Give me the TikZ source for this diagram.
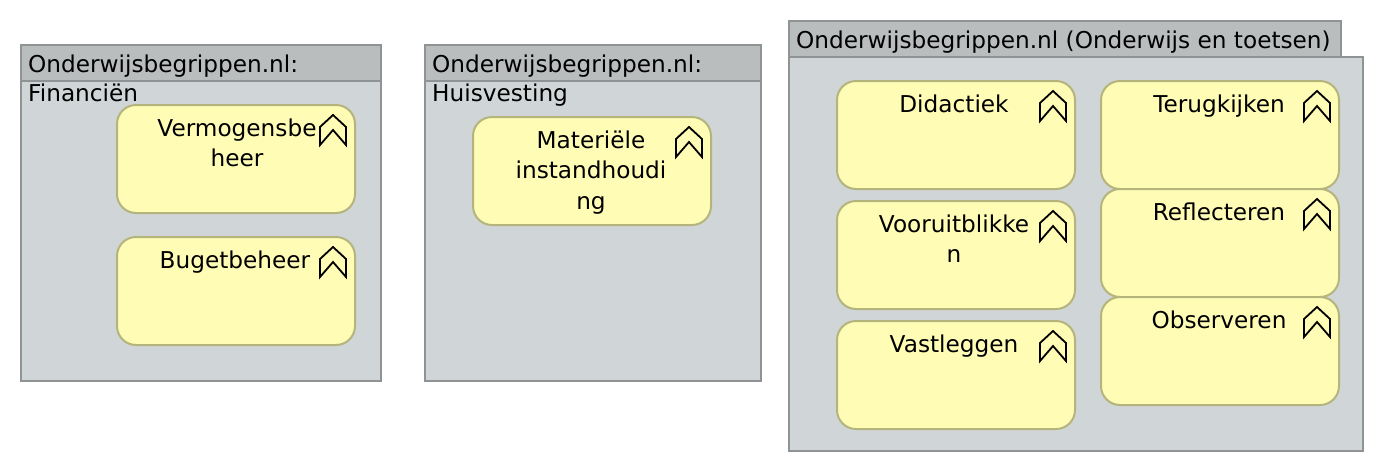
\documentclass[tikz,border=0pt]{standalone}
\usepackage{fontspec}
\setmainfont{DejaVu Sans}
\definecolor{grphead}{HTML}{BABDBE}
\definecolor{grpbody}{HTML}{D0D6D7}
\definecolor{grpline}{HTML}{8F9394}
\definecolor{elfill}{HTML}{FFFDB5}
\definecolor{elline}{HTML}{B5B47C}
\tikzset{
  px/.style={x=1pt,y=-1pt},
  grpbox/.style={draw=grpline,fill=grpbody,line width=2pt,rectangle,inner sep=0pt,outer sep=0pt,anchor=north west},
  grptab/.style={draw=grpline,fill=grphead,line width=2pt,rectangle,inner sep=0pt,outer sep=0pt,anchor=north west},
  elbox/.style={draw=elline,fill=elfill,line width=2pt,rectangle,rounded corners=19pt,inner sep=0pt,outer sep=0pt,anchor=north west,minimum width=238pt,minimum height=108pt},
  lab/.style={inner sep=0pt,font=\fontsize{23.2}{30.5}\selectfont,align=center,text=black,anchor=base},
  glab/.style={inner sep=0pt,font=\fontsize{23.2}{30.5}\selectfont,text=black,anchor=base west},
  chev/.style={draw=black,line width=1.8pt,line join=miter,fill=none}
}
\begin{document}
\begin{tikzpicture}[px]
\useasboundingbox (0,0) rectangle (1384,472);
% group 1
\node[grpbox,minimum width=360pt,minimum height=336pt] (g1) at (21,45) {};
\node[grptab,minimum width=360pt,minimum height=36pt] (g1h) at (21,45) {};
\node[glab] (g1t) at (28,72) {Onderwijsbegrippen.nl:};
\node[glab] (g1u) at (28,101) {Financiën};
\node[elbox] (e1) at (117,105) {};
\node[lab] (e1t) at (237,166.5) {Vermogensbe\\heer};
\node[elbox] (e2) at (117,237) {};
\node[lab] (e2t) at (235,268) {Bugetbeheer};
% group 2
\node[grpbox,minimum width=336pt,minimum height=336pt] (g2) at (425,45) {};
\node[grptab,minimum width=336pt,minimum height=36pt] (g2h) at (425,45) {};
\node[glab] (g2t) at (432,72) {Onderwijsbegrippen.nl:};
\node[glab] (g2u) at (432,101) {Huisvesting};
\node[elbox] (e3) at (473,117) {};
\node[lab] (e3t) at (591,209) {Materiële\\instandhoudi\\ng};
% group 3
\node[grptab,minimum width=552pt,minimum height=36pt] (g3h) at (789,21) {};
\node[grpbox,minimum width=574pt,minimum height=394pt] (g3) at (789,57) {};
\node[glab] (g3t) at (796,48) {Onderwijsbegrippen.nl (Onderwijs en toetsen)};
\node[elbox] (e4) at (837,81) {};
\node[lab] (e4t) at (954,112) {Didactiek};
\node[elbox] (e5) at (837,201) {};
\node[lab] (e5t) at (954,262.5) {Vooruitblikke\\n};
\node[elbox] (e6) at (837,321) {};
\node[lab] (e6t) at (954,352) {Vastleggen};
\node[elbox] (e7) at (1101,81) {};
\node[lab] (e7t) at (1219,112) {Terugkijken};
\node[elbox] (e8) at (1101,189) {};
\node[lab] (e8t) at (1219,220) {Reflecteren};
\node[elbox] (e9) at (1101,297) {};
\node[lab] (e9t) at (1219,328) {Observeren};
\foreach \e in {e1,e2,e3,e4,e5,e6,e7,e8,e9}{
  \draw[chev] ([xshift=-35pt,yshift=-40pt]\e.north east) -- ++(0,-18) -- ++(13,-12) -- ++(13,12) -- ++(0,18) -- ++(-13,-15) -- cycle;
}
\end{tikzpicture}
\end{document}
